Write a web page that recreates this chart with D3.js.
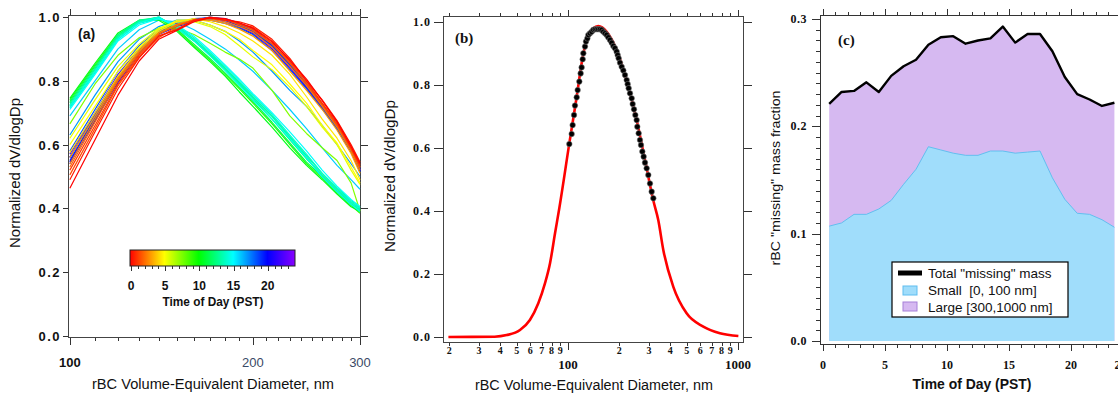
<!DOCTYPE html>
<html>
<head>
<meta charset="utf-8">
<script src="https://cdn.jsdelivr.net/npm/d3@7"></script>
<style>
body { margin: 0; background: #fff; }
svg { display: block; }
.ax line, .ax path { stroke: #333; shape-rendering: crispEdges; }
</style>
</head>
<body>
<svg id="chart" width="1118" height="393"></svg>
<script>
// ---- panel (a): normalized size distributions, one line per time of day
var diamGrid = [100, 110, 120, 130, 140, 150, 160, 170, 180, 190, 200, 215, 230, 245, 260, 275, 290, 300]
var lineHours = [0, 0.5, 1, 1.5, 2, 2.5, 3, 4.5, 5, 5.5, 7.5, 9, 10.5, 11.5, 12.5, 13, 13.5, 14, 14.5, 15, 16, 17, 18.5, 19, 19.5, 20, 20.5, 21, 22]
var lineValues = [
    [0.463, 0.615, 0.755, 0.862, 0.930, 0.958, 0.985, 0.998, 0.995, 0.982, 0.965, 0.922, 0.865, 0.805, 0.738, 0.672, 0.595, 0.540],
    [0.490, 0.640, 0.775, 0.872, 0.940, 0.960, 0.990, 0.997, 0.990, 0.985, 0.972, 0.930, 0.870, 0.800, 0.740, 0.675, 0.600, 0.545],
    [0.520, 0.660, 0.790, 0.880, 0.940, 0.962, 0.988, 1.000, 0.993, 0.978, 0.968, 0.925, 0.862, 0.798, 0.730, 0.668, 0.588, 0.535],
    [0.505, 0.650, 0.785, 0.875, 0.935, 0.970, 0.992, 0.996, 0.990, 0.980, 0.962, 0.918, 0.858, 0.790, 0.728, 0.662, 0.592, 0.530],
    [0.530, 0.670, 0.800, 0.885, 0.945, 0.975, 0.990, 0.997, 0.992, 0.975, 0.958, 0.915, 0.855, 0.792, 0.725, 0.660, 0.585, 0.528],
    [0.540, 0.680, 0.805, 0.890, 0.950, 0.975, 0.990, 0.995, 0.985, 0.970, 0.952, 0.905, 0.845, 0.785, 0.720, 0.655, 0.580, 0.520],
    [0.560, 0.690, 0.810, 0.895, 0.950, 0.978, 0.990, 0.990, 0.980, 0.962, 0.940, 0.895, 0.830, 0.770, 0.710, 0.645, 0.572, 0.510],
    [0.575, 0.700, 0.815, 0.900, 0.955, 0.985, 0.995, 0.985, 0.970, 0.950, 0.925, 0.880, 0.820, 0.750, 0.680, 0.620, 0.550, 0.490],
    [0.600, 0.720, 0.830, 0.905, 0.960, 0.990, 0.990, 0.975, 0.955, 0.930, 0.895, 0.850, 0.790, 0.730, 0.660, 0.605, 0.530, 0.480],
    [0.620, 0.740, 0.845, 0.915, 0.965, 0.985, 0.985, 0.970, 0.945, 0.910, 0.875, 0.835, 0.780, 0.720, 0.655, 0.600, 0.520, 0.475],
    [0.665, 0.790, 0.880, 0.935, 0.965, 0.965, 0.945, 0.918, 0.890, 0.868, 0.840, 0.770, 0.690, 0.635, 0.590, 0.550, 0.480, 0.392],
    [0.740, 0.850, 0.945, 0.985, 0.995, 0.960, 0.910, 0.865, 0.820, 0.775, 0.730, 0.665, 0.600, 0.540, 0.495, 0.450, 0.410, 0.385],
    [0.745, 0.855, 0.950, 0.990, 0.990, 0.955, 0.905, 0.860, 0.815, 0.765, 0.720, 0.655, 0.590, 0.535, 0.490, 0.445, 0.405, 0.390],
    [0.735, 0.845, 0.940, 0.985, 1.000, 0.962, 0.915, 0.870, 0.825, 0.780, 0.735, 0.670, 0.605, 0.545, 0.500, 0.455, 0.415, 0.395],
    [0.730, 0.840, 0.945, 0.990, 0.998, 0.965, 0.925, 0.880, 0.835, 0.790, 0.745, 0.680, 0.615, 0.555, 0.505, 0.460, 0.420, 0.400],
    [0.725, 0.835, 0.940, 0.988, 1.000, 0.968, 0.930, 0.885, 0.840, 0.795, 0.750, 0.690, 0.625, 0.565, 0.510, 0.465, 0.425, 0.405],
    [0.720, 0.830, 0.935, 0.985, 0.998, 0.970, 0.928, 0.884, 0.838, 0.792, 0.748, 0.688, 0.622, 0.560, 0.500, 0.455, 0.415, 0.395],
    [0.715, 0.825, 0.930, 0.980, 0.995, 0.972, 0.935, 0.890, 0.845, 0.800, 0.755, 0.695, 0.630, 0.570, 0.510, 0.462, 0.420, 0.400],
    [0.720, 0.830, 0.930, 0.982, 1.000, 0.966, 0.925, 0.878, 0.832, 0.786, 0.740, 0.680, 0.618, 0.558, 0.498, 0.452, 0.412, 0.390],
    [0.710, 0.820, 0.925, 0.975, 0.995, 0.975, 0.940, 0.895, 0.850, 0.805, 0.760, 0.700, 0.640, 0.580, 0.520, 0.470, 0.428, 0.405],
    [0.690, 0.800, 0.900, 0.960, 0.990, 0.985, 0.960, 0.930, 0.900, 0.865, 0.830, 0.770, 0.710, 0.650, 0.590, 0.535, 0.490, 0.460],
    [0.630, 0.755, 0.860, 0.930, 0.970, 0.990, 0.990, 0.975, 0.955, 0.925, 0.890, 0.830, 0.770, 0.720, 0.660, 0.600, 0.540, 0.500],
    [0.580, 0.710, 0.830, 0.910, 0.960, 0.980, 0.993, 0.990, 0.980, 0.965, 0.945, 0.895, 0.835, 0.775, 0.712, 0.650, 0.580, 0.515],
    [0.560, 0.690, 0.815, 0.900, 0.955, 0.978, 0.995, 0.997, 0.990, 0.975, 0.958, 0.910, 0.850, 0.790, 0.722, 0.658, 0.585, 0.522],
    [0.550, 0.685, 0.805, 0.895, 0.950, 0.975, 0.990, 1.000, 0.992, 0.978, 0.960, 0.915, 0.855, 0.792, 0.728, 0.662, 0.590, 0.525],
    [0.545, 0.680, 0.800, 0.888, 0.948, 0.972, 0.990, 0.998, 0.995, 0.980, 0.962, 0.915, 0.852, 0.790, 0.725, 0.660, 0.588, 0.520],
    [0.540, 0.675, 0.795, 0.885, 0.945, 0.970, 0.985, 0.995, 0.990, 0.975, 0.955, 0.910, 0.848, 0.785, 0.720, 0.655, 0.582, 0.518],
    [0.560, 0.695, 0.810, 0.895, 0.952, 0.976, 0.990, 0.996, 0.990, 0.972, 0.952, 0.905, 0.845, 0.780, 0.718, 0.652, 0.580, 0.520],
    [0.570, 0.700, 0.820, 0.900, 0.955, 0.980, 0.993, 0.995, 0.985, 0.968, 0.948, 0.900, 0.840, 0.778, 0.715, 0.650, 0.578, 0.518]
]
var colorbarTicks = [0, 5, 10, 15, 20]

// ---- panel (b): fitted lognormal (red) and measured points (black)
var fitDiam = [19.8, 37, 43.6, 52.2, 59.7, 66.9, 73.2, 78.4, 83.9, 89, 101.8, 112.5, 120.3, 128.8, 140.9, 150.7, 169, 193.3, 221.4, 253.4, 283.6, 317.9, 339.6, 363.6, 416, 498.6, 625, 783, 1005]
var fitValue = [0.0, 0.001, 0.006, 0.022, 0.054, 0.107, 0.170, 0.234, 0.329, 0.41, 0.614, 0.762, 0.868, 0.945, 0.979, 0.986, 0.968, 0.910, 0.812, 0.688, 0.562, 0.432, 0.371, 0.276, 0.160, 0.075, 0.033, 0.012, 0.003]
var obsDiam = [101.8, 105.1, 106.5, 108.5, 109.9, 112.5, 114, 116.6, 118.7, 120.3, 122, 123.1, 125.9, 127.6, 130, 131.7, 134.7, 137.8, 140.9, 144.1,
    147.4, 150.8, 154.3, 157.8, 161.4, 165.1, 168.9, 172.7, 176.7, 180.7, 184.8, 189, 193.3, 196, 198.6, 202.3, 206.9, 211.6, 216.4, 221.4,
    224.4, 227.5, 231.6, 236.9, 240.1, 244.5, 248.9, 253.4, 255.7, 260.4, 265.1, 268.8, 273.7, 278.6, 283.7, 290.2, 296.8, 303.6, 310.6, 317.7]
var obsValue = [0.612, 0.644, 0.672, 0.704, 0.734, 0.760, 0.783, 0.810, 0.836, 0.855, 0.881, 0.900, 0.921, 0.937, 0.947, 0.958, 0.963, 0.968, 0.974, 0.976,
    0.976, 0.976, 0.976, 0.974, 0.968, 0.963, 0.958, 0.950, 0.942, 0.933, 0.923, 0.916, 0.905, 0.894, 0.884, 0.870, 0.857, 0.845, 0.831, 0.815,
    0.802, 0.789, 0.773, 0.757, 0.739, 0.722, 0.704, 0.688, 0.667, 0.646, 0.625, 0.609, 0.588, 0.572, 0.553, 0.535, 0.514, 0.487, 0.461, 0.440]

// ---- panel (c): "missing" rBC mass fraction by hour
var hourOfDay = [0.5, 1.5, 2.5, 3.5, 4.5, 5.5, 6.5, 7.5, 8.5, 9.5, 10.5, 11.5, 12.5, 13.5, 14.5, 15.5, 16.5, 17.5, 18.5, 19.5, 20.5, 21.5, 22.5, 23.5]
var totalMissing = [0.221, 0.232, 0.233, 0.241, 0.232, 0.247, 0.256, 0.262, 0.276, 0.283, 0.284, 0.277, 0.280, 0.282, 0.293, 0.278, 0.286, 0.286, 0.270, 0.246, 0.230, 0.225, 0.219, 0.222]
var smallMissing = [0.107, 0.110, 0.118, 0.118, 0.123, 0.131, 0.146, 0.160, 0.181, 0.178, 0.175, 0.173, 0.173, 0.177, 0.177, 0.175, 0.176, 0.177, 0.152, 0.132, 0.119, 0.118, 0.113, 0.106]
var legendLabels = ['Total "missing" mass', 'Small  [0, 100 nm]', 'Large [300,1000 nm]']

var SERIF = '"Liberation Serif", "Times New Roman", serif'
var SANS = '"Liberation Sans", Arial, sans-serif'

var svg = d3.select('#chart')

function label(g, x, y, txt, opts) {
    opts = opts || {}
    var t = g.append('text')
        .attr('x', x).attr('y', y)
        .attr('text-anchor', opts.anchor || 'middle')
        .attr('font-family', opts.family || SANS)
        .attr('font-size', opts.size || 12)
        .attr('font-weight', opts.weight || 'normal')
        .attr('fill', opts.fill || '#111')
        .style('white-space', 'pre')
        .text(txt)
    if (opts.spacing) t.attr('letter-spacing', opts.spacing)
    if (opts.length) t.attr('textLength', opts.length).attr('lengthAdjust', 'spacingAndGlyphs')
    if (opts.rotate) t.attr('transform', 'rotate(-90,' + x + ',' + y + ')')
    return t
}

function ticks(g, axis, transform) {
    var a = g.append('g').attr('class', 'ax').attr('transform', transform).call(axis)
    a.select('.domain').remove()
    a.selectAll('text').remove()
    return a
}

function frameLine(g, x1, y1, x2, y2) {
    g.append('line').attr('x1', x1).attr('y1', y1).attr('x2', x2).attr('y2', y2)
        .attr('stroke', '#333').attr('shape-rendering', 'crispEdges')
}

// ================= panel (a) =================
function drawPanelA() {
    var g = svg.append('g')
    var x = d3.scaleLog().domain([99.3, 300]).range([68, 360])
    var y = d3.scaleLinear().domain([0, 1]).range([336, 17])
    var hue = d3.scaleLinear().domain([0, 20, 24]).range([0, 240, 272])
    var color = function(t) { return d3.hsl(hue(t), 1, 0.5).toString() }

    var minor = d3.range(100, 301, 10)
    ticks(g, d3.axisBottom(x).tickValues(minor).tickSize(4).tickFormat(''), 'translate(0,337)')
    ticks(g, d3.axisBottom(x).tickValues([100, 200, 300]).tickSize(8).tickFormat(''), 'translate(0,337)')
    ticks(g, d3.axisTop(x).tickValues(minor).tickSize(3).tickFormat(''), 'translate(0,15)')
    ticks(g, d3.axisTop(x).tickValues([100, 200, 300]).tickSize(6).tickFormat(''), 'translate(0,15)')
    var yt = [0, 0.2, 0.4, 0.6, 0.8, 1.0]
    ticks(g, d3.axisLeft(y).tickValues(yt).tickSize(5).tickFormat(''), 'translate(68,0)')
    ticks(g, d3.axisRight(y).tickValues(yt).tickSize(8).tickFormat(''), 'translate(360,0)')
    g.append('rect').attr('x', 68).attr('y', 15).attr('width', 292).attr('height', 322)
        .attr('fill', 'none').attr('stroke', '#444').attr('shape-rendering', 'crispEdges')

    yt.forEach(function(v) {
        label(g, 61, y(v) + 5, v.toFixed(1), { anchor: 'end', weight: 'bold', size: 13, spacing: 1.5, family: SANS })
    })
    label(g, x(100), 367, '100', { weight: 'bold', size: 13, fill: '#111' })
    label(g, x(200), 367, '200', { size: 13, fill: '#3a4a66' })
    label(g, x(300), 367, '300', { size: 13, fill: '#3a4a66' })
    label(g, 213, 389, 'rBC Volume-Equivalent Diameter, nm', { size: 14, length: 242 })
    label(g, 20, 173, 'Normalized dV/dlogDp', { size: 14, length: 150, rotate: true })

    var line = d3.line()
        .x(function(d, i) { return x(diamGrid[i]) })
        .y(function(d) { return y(d) })
    // layering: blues underneath, then green -> cyan, then yellow -> red on top
    var rank = function(t) { return t >= 16 ? 22 - t : (t >= 7 ? 10 + t : 40 - t) }
    var order = d3.range(lineValues.length).sort(function(a, b) { return rank(lineHours[a]) - rank(lineHours[b]) })
    g.append('g').selectAll('path').data(order).join('path')
        .attr('d', function(i) { return line(lineValues[i]) })
        .attr('fill', 'none')
        .attr('stroke', function(i) { return color(lineHours[i]) })
        .attr('stroke-width', 1.2)
        .attr('stroke-linejoin', 'round')

    label(g, 78, 39, '(a)', { anchor: 'start', weight: 'bold', size: 14 })

    // colour bar
    var cb = d3.scaleLinear().domain([0, 24]).range([131, 295])
    var grad = svg.append('defs').append('linearGradient').attr('id', 'tod')
    d3.range(0, 24.5, 1).forEach(function(t) {
        grad.append('stop').attr('offset', (t / 24 * 100) + '%').attr('stop-color', color(t))
    })
    g.append('rect').attr('x', cb(0) - 1).attr('y', 250).attr('width', cb(24) - cb(0) + 1).attr('height', 16)
        .attr('fill', 'url(#tod)').attr('stroke', '#222')
    ticks(g, d3.axisBottom(cb).tickValues(d3.range(0, 24, 1)).tickSize(3).tickFormat(''), 'translate(0,266)')
    ticks(g, d3.axisBottom(cb).tickValues(colorbarTicks).tickSize(5).tickFormat(''), 'translate(0,266)')
    colorbarTicks.forEach(function(t) {
        label(g, cb(t), 290, String(t), { weight: 'bold', size: 12 })
    })
    label(g, 213, 306, 'Time of Day (PST)', { weight: 'bold', size: 12, length: 101 })
}

// ================= panel (b) =================
function drawPanelB() {
    var g = svg.append('g')
    var x = d3.scaleLog().domain([18.4, 1070]).range([443, 743])
    var y = d3.scaleLinear().domain([0, 1]).range([337, 21.7])
    var minor = [20, 30, 40, 50, 60, 70, 80, 90, 200, 300, 400, 500, 600, 700, 800, 900]

    ticks(g, d3.axisBottom(x).tickValues(minor).tickSize(4).tickFormat(''), 'translate(0,342)')
    ticks(g, d3.axisBottom(x).tickValues([100, 1000]).tickSize(8).tickFormat(''), 'translate(0,342)')
    ticks(g, d3.axisTop(x).tickValues(minor).tickSize(3).tickFormat(''), 'translate(0,16)')
    ticks(g, d3.axisTop(x).tickValues([100, 1000]).tickSize(6).tickFormat(''), 'translate(0,16)')
    var yt = [0, 0.2, 0.4, 0.6, 0.8, 1.0]
    ticks(g, d3.axisLeft(y).tickValues(yt).tickSize(9).tickFormat(''), 'translate(443,0)')
    ticks(g, d3.axisRight(y).tickValues(yt).tickSize(9).tickFormat(''), 'translate(743,0)')
    g.append('rect').attr('x', 443).attr('y', 16).attr('width', 300).attr('height', 326)
        .attr('fill', 'none').attr('stroke', '#444').attr('shape-rendering', 'crispEdges')

    yt.forEach(function(v) {
        label(g, 431, y(v) + 4, v.toFixed(1), { anchor: 'end', weight: 'bold', size: 12, spacing: 1, family: SERIF })
    })
    minor.forEach(function(d) {
        label(g, x(d), 354, String(d).charAt(0), { weight: 'bold', size: 10, family: SERIF })
    })
    label(g, x(100), 369, '100', { weight: 'bold', size: 13, family: SERIF })
    label(g, x(1000), 369, '1000', { weight: 'bold', size: 13, family: SERIF })
    label(g, 594, 390, 'rBC Volume-Equivalent Diameter, nm', { size: 14, length: 238 })
    label(g, 395, 176, 'Normalized dV/dlogDp', { size: 14, length: 152, rotate: true })

    var fit = fitDiam.map(function(d, i) { return [d, fitValue[i]] })
    g.append('path').datum(fit)
        .attr('d', d3.line().curve(d3.curveMonotoneX)
            .x(function(d) { return x(d[0]) })
            .y(function(d) { return y(d[1]) }))
        .attr('fill', 'none').attr('stroke', '#f00').attr('stroke-width', 2.6)

    g.append('g').selectAll('circle').data(obsDiam).join('circle')
        .attr('cx', function(d) { return x(d) })
        .attr('cy', function(d, i) { return y(obsValue[i]) })
        .attr('r', 2.8)
        .attr('fill', '#000')
        .attr('stroke', '#888').attr('stroke-width', 0.5)

    label(g, 455, 43, '(b)', { anchor: 'start', weight: 'bold', size: 15, family: SERIF })
}

// ================= panel (c) =================
function drawPanelC() {
    var g = svg.append('g')
    var x = d3.scaleLinear().domain([0, 24]).range([823, 1120.6])
    var y = d3.scaleLinear().domain([0, 0.3]).range([341, 19])

    var area = d3.area()
        .x(function(d, i) { return x(hourOfDay[i]) })
        .y0(y(0))
        .y1(function(d) { return y(d) })
    g.append('path').datum(totalMissing).attr('d', area).attr('fill', '#d6b9f1')
    g.append('path').datum(smallMissing).attr('d', area).attr('fill', '#a0ddfb')
    var line = d3.line()
        .x(function(d, i) { return x(hourOfDay[i]) })
        .y(function(d) { return y(d) })
    g.append('path').datum(smallMissing).attr('d', line)
        .attr('fill', 'none').attr('stroke', '#62bff0').attr('stroke-width', 1)
    g.append('path').datum(totalMissing).attr('d', line)
        .attr('fill', 'none').attr('stroke', '#000').attr('stroke-width', 2.4).attr('stroke-linejoin', 'round')

    var hours = d3.range(0, 25, 1)
    var major = [0, 5, 10, 15, 20]
    ticks(g, d3.axisBottom(x).tickValues(hours).tickSize(4).tickFormat(''), 'translate(0,344)')
    ticks(g, d3.axisBottom(x).tickValues(major).tickSize(7).tickFormat(''), 'translate(0,344)')
    ticks(g, d3.axisTop(x).tickValues(hours).tickSize(3).tickFormat(''), 'translate(0,15)')
    ticks(g, d3.axisTop(x).tickValues(major).tickSize(6).tickFormat(''), 'translate(0,15)')
    ticks(g, d3.axisLeft(y).tickValues(d3.range(0, 0.3001, 0.01)).tickSize(4).tickFormat(''), 'translate(820,0)')
    ticks(g, d3.axisLeft(y).tickValues([0, 0.1, 0.2, 0.3]).tickSize(8).tickFormat(''), 'translate(820,0)')
    frameLine(g, 820, 15, 820, 344)
    frameLine(g, 820, 15, 1118, 15)
    frameLine(g, 820, 344, 1118, 344)

    ;[0, 0.1, 0.2, 0.3].forEach(function(v) {
        label(g, 807, y(v) + 4, v.toFixed(1), { anchor: 'end', weight: 'bold', size: 12, spacing: 0.5, family: SERIF })
    })
    major.concat([24]).forEach(function(h) {
        label(g, x(h), 369, String(h), { weight: 'bold', size: 12, family: SERIF })
    })
    label(g, 972, 389, 'Time of Day (PST)', { weight: 'bold', size: 14, length: 119 })
    label(g, 780, 178, 'rBC "missing" mass fraction', { size: 13, length: 175, rotate: true })
    label(g, 838, 45, '(c)', { anchor: 'start', weight: 'bold', size: 15, family: SERIF })

    // legend
    var lg = g.append('g')
    lg.append('rect').attr('x', 892).attr('y', 262).attr('width', 176).attr('height', 55)
        .attr('fill', '#fff').attr('stroke', '#000').attr('stroke-width', 1.2)
    lg.append('line').attr('x1', 898).attr('x2', 922).attr('y1', 273).attr('y2', 273)
        .attr('stroke', '#000').attr('stroke-width', 5)
    lg.append('rect').attr('x', 903).attr('y', 286).attr('width', 14).attr('height', 9)
        .attr('fill', '#a0ddfb').attr('stroke', '#5fbdf0')
    lg.append('rect').attr('x', 903).attr('y', 302).attr('width', 14).attr('height', 9)
        .attr('fill', '#d6b9f1').attr('stroke', '#a680d8')
    legendLabels.forEach(function(t, i) {
        label(lg, 928, 278 + i * 17, t, { anchor: 'start', size: 13.5 })
    })
}

drawPanelA()
drawPanelB()
drawPanelC()
</script>
</body>
</html>
